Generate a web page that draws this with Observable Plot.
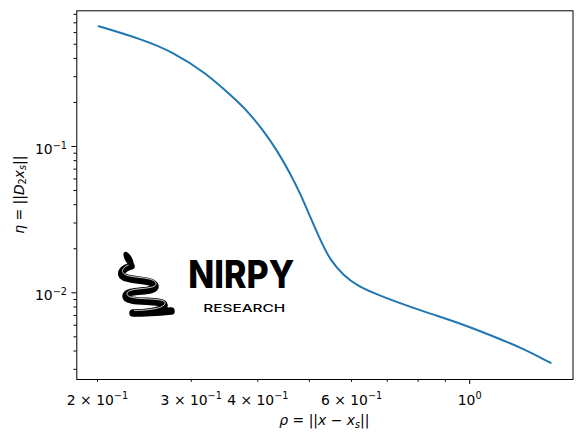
<!DOCTYPE html>
<html><head><meta charset="utf-8">
<script src="https://cdn.jsdelivr.net/npm/d3@7"></script>
<script src="https://cdn.jsdelivr.net/npm/@observablehq/plot@0.6"></script>
<style>body{margin:0;background:#fff;} svg{display:block}</style>
</head><body><div id="chart"></div>
<script>
// data (log-log)
const rho = [0.2010, 0.2408, 0.278, 0.321, 0.3554, 0.382, 0.4104, 0.4349, 0.4605, 0.4809, 0.5021, 0.5245, 0.5475, 0.5799, 0.6145, 0.6604, 0.7307, 0.8436, 0.9744, 1.126, 1.263, 1.419];
const eta = [0.664, 0.5447, 0.441, 0.314, 0.2245, 0.1762, 0.1276, 0.0939, 0.0651, 0.0475, 0.03286, 0.02278, 0.01663, 0.01313, 0.01122, 0.00994, 0.00862, 0.00719, 0.00607, 0.00492, 0.00414, 0.00332];

const xMinorTicks = [0.2, 0.3, 0.4, 0.5, 0.6, 0.7, 0.8, 0.9];
const xMinorLabels = ["2 × 10^−1", "3 × 10^−1", "4 × 10^−1", "", "6 × 10^−1", "", "", ""];
const xMajorTicks = [1];
const xMajorLabels = ["10^0"];
const yMajorTicks = [0.1, 0.01];
const yMajorLabels = ["10^−1", "10^−2"];
const yMinorTicks = [0.003, 0.004, 0.005, 0.006, 0.007, 0.008, 0.009,
                     0.02, 0.03, 0.04, 0.05, 0.06, 0.07, 0.08, 0.09,
                     0.2, 0.3, 0.4, 0.5, 0.6, 0.7, 0.8];

const data = rho.map((r, i) => ({rho: r, eta: eta[i]}));
const fmt = (ticks, labels) => { const m = new Map(ticks.map((t, i) => [t, labels[i]])); return d => m.get(d) ?? ""; };

const W = 582, H = 441;
const mL = 76.3, mR = 9.5, mT = 10.3, mB = 62;

const plot = Plot.plot({
  width: W, height: H,
  marginLeft: mL, marginRight: mR, marginTop: mT, marginBottom: mB,
  style: {fontFamily: "DejaVu Sans", fontSize: "13.9px", background: "#fff", color: "#000"},
  x: {type: "log", domain: [0.1829, 1.563], label: null},
  y: {type: "log", domain: [0.002555, 0.846], label: null},
  marks: [
    Plot.line(data, {x: "rho", y: "eta", stroke: "#1f77b4", strokeWidth: 2, curve: "basis"}),
    Plot.axisX({ticks: xMinorTicks, tickSize: 2.8, tickPadding: 4.9, tickFormat: fmt(xMinorTicks, xMinorLabels), label: null}),
    Plot.axisX({ticks: xMajorTicks, tickSize: 4.9, tickPadding: 2.8, tickFormat: fmt(xMajorTicks, xMajorLabels), label: null}),
    Plot.axisY({ticks: yMinorTicks, tickSize: 2.8, tickFormat: () => "", label: null}),
    Plot.axisY({ticks: yMajorTicks, tickSize: 4.9, tickPadding: 4.9, tickFormat: fmt(yMajorTicks, yMajorLabels), label: null}),
    Plot.frame({stroke: "#000", strokeWidth: 1})
  ]
});
document.getElementById("chart").appendChild(plot);

const svg = d3.select(plot);

// turn "base^exp" tick labels into base + raised smaller exponent
svg.selectAll("g[aria-label$='tick label'] text").each(function () {
  const t = this.textContent;
  if (!t.includes("^")) return;
  const [base, exp] = t.split("^");
  const isY = this.parentNode.getAttribute("aria-label").startsWith("y");
  this.textContent = "";
  const el = d3.select(this);
  el.append("tspan").attr("dy", isY ? "2.8px" : "7.5px").text(base);
  el.append("tspan").attr("font-size", "9.7px").attr("dy", "-5.2px").text(exp);
});

// y label
const yl = svg.append("text")
  .attr("transform", `translate(23.5,${(mT + H - mB) / 2}) rotate(-90)`)
  .attr("text-anchor", "middle")
  .attr("font-family", "DejaVu Sans").attr("font-size", "13.9px").attr("fill", "#000");
yl.append("tspan").attr("font-style", "italic").text("η");
yl.append("tspan").text(" = ||");
yl.append("tspan").attr("font-style", "italic").text("D");
yl.append("tspan").attr("font-size", "9.7px").attr("dy", "2.5").text("2");
yl.append("tspan").attr("font-style", "italic").attr("dy", "-2.5").text("x");
yl.append("tspan").attr("font-style", "italic").attr("font-size", "9.7px").attr("dy", "2.5").text("s");
yl.append("tspan").attr("dy", "-2.5").text("||");

// x label
const xl = svg.append("text")
  .attr("transform", `translate(${(mL + W - mR) / 2},425)`)
  .attr("text-anchor", "middle")
  .attr("font-family", "DejaVu Sans").attr("font-size", "13.9px").attr("fill", "#000");
xl.append("tspan").attr("font-style", "italic").text("ρ");
xl.append("tspan").text(" = ||");
xl.append("tspan").attr("font-style", "italic").text("x");
xl.append("tspan").text(" − ");
xl.append("tspan").attr("font-style", "italic").text("x");
xl.append("tspan").attr("font-style", "italic").attr("font-size", "9.7px").attr("dy", "2.5").text("s");
xl.append("tspan").attr("dy", "-2.5").text("||");

// logo (decoration)
const logo = svg.append("g");
const snake = "M131,266 C124,268 118,273 124,277 C131,281 154,279 155,286 C156,293 127,289 126,296 C125,304 163,299 164,305 C165,312 140,313 133,313";
logo.append("path")
  .attr("d", snake + " C145,313 160,312 171,311")
  .attr("fill", "none").attr("stroke", "#000").attr("stroke-width", 7.5).attr("stroke-linecap", "round").attr("stroke-linejoin", "round");
logo.append("path")
  .attr("d", snake)
  .attr("fill", "none").attr("stroke", "#fff").attr("stroke-width", 0.8).attr("transform", "translate(1,-2.5)");
logo.append("ellipse").attr("cx", 128.5).attr("cy", 259).attr("rx", 3.6).attr("ry", 8).attr("transform", "rotate(-30,128.5,259)").attr("fill", "#000");
logo.append("text").attr("x", 188.3).attr("y", 287.7).attr("text-anchor", "start")
  .attr("font-family", "Inter").attr("font-weight", 800).attr("font-size", "38px")
  .attr("textLength", 106).attr("lengthAdjust", "spacingAndGlyphs").attr("fill", "#000").text("NIRPY");
logo.append("text").attr("x", 203.3).attr("y", 311.7).attr("text-anchor", "start")
  .attr("font-family", "Inter").attr("font-weight", 500).attr("font-size", "10.3px")
  .attr("textLength", 82).attr("lengthAdjust", "spacingAndGlyphs").attr("fill", "#000").text("RESEARCH");
</script>
</body></html>
